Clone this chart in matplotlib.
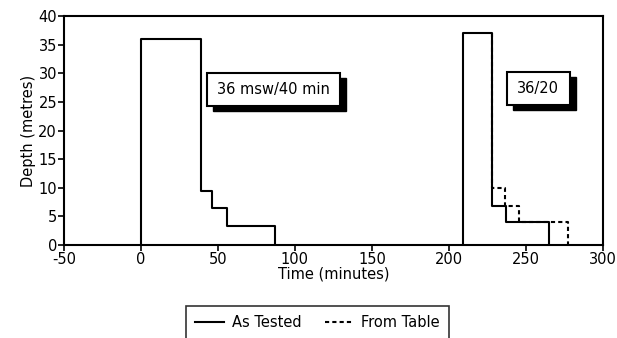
import matplotlib
matplotlib.use("Agg")
import matplotlib.pyplot as plt
from matplotlib.patches import Rectangle

plt.rcParams['font.family'] = ['DejaVu Sans']
plt.rcParams['axes.unicode_minus'] = False

# dive 1 (36 msw / 40 min), as tested
dive1_time = [0, 0, 39, 39, 46, 46, 56, 56, 87, 87]
dive1_depth = [0, 36, 36, 9.4, 9.4, 6.5, 6.5, 3.4, 3.4, 0]

# dive 2 (36/20), as tested
dive2_time = [209, 209, 228, 228, 237, 237, 265, 265]
dive2_depth = [0, 37, 37, 6.8, 6.8, 4.1, 4.1, 0]

# dive 2, from table (stops only)
table_time = [228, 228, 236.5, 236.5, 245.5, 245.5, 277.5, 277.5]
table_depth = [37, 10, 10, 6.8, 6.8, 4.1, 4.1, 0]

x_ticks = [-50, 0, 50, 100, 150, 200, 250, 300]
y_ticks = [0, 5, 10, 15, 20, 25, 30, 35, 40]

# label boxes: text, (x0, y0, x1, y1) in data units
labels = ["36 msw/40 min", "36/20"]
label_boxes = [(43, 24.3, 129.6, 30.1), (237.6, 24.5, 278.6, 30.2)]
shadow_dx, shadow_dy = 3.9, 0.9

fig = plt.figure(figsize=(6.17, 3.38), dpi=100)
ax = fig.add_axes([0.1037, 0.275, 0.8733, 0.6775])

ax.plot(dive1_time, dive1_depth, color="black", lw=1.5, label="As Tested")
ax.plot(dive2_time, dive2_depth, color="black", lw=1.5)
ax.plot(table_time, table_depth, color="black", lw=1.5, ls=(0, (2, 1.5)), label="From Table")

ax.set_xlim(-50, 300)
ax.set_ylim(0, 40)
ax.set_xticks(x_ticks)
ax.set_yticks(y_ticks)
ax.tick_params(direction="out", length=4, width=1.2, labelsize=10.5, pad=1)
for s in ax.spines.values():
    s.set_linewidth(1.5)

ax.set_xlabel("Time (minutes)", fontsize=10.5, labelpad=0)
ax.set_ylabel("Depth (metres)", fontsize=10.5, labelpad=2)

for txt, (x0, y0, x1, y1) in zip(labels, label_boxes):
    ax.add_patch(Rectangle((x0 + shadow_dx, y0 - shadow_dy), x1 - x0, y1 - y0,
                           fc="black", ec="black", zorder=4))
    ax.add_patch(Rectangle((x0, y0), x1 - x0, y1 - y0, fc="white", ec="black", lw=1.5, zorder=5))
    ax.text((x0 + x1) / 2, (y0 + y1) / 2, txt, fontsize=10.5, ha="center", va="center", zorder=6)

leg = fig.legend(loc="upper center", bbox_to_anchor=(0.5146, 0.0947), ncol=2, fontsize=10.5,
                 frameon=True, fancybox=False, edgecolor="black", handlelength=2,
                 columnspacing=1.6, borderpad=0.65, handletextpad=0.5, borderaxespad=0)
leg.get_frame().set_linewidth(1.2)

fig.savefig("out.png", dpi=100)
